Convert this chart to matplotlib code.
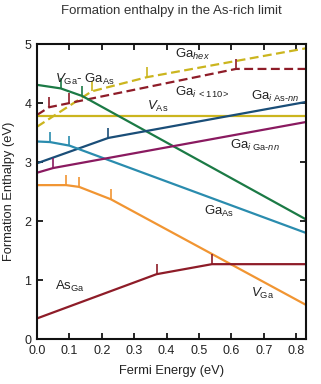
import numpy as np
import matplotlib
matplotlib.use('Agg')
import matplotlib.pyplot as plt

plt.rcParams['font.family'] = ['Liberation Sans', 'DejaVu Sans']
plt.rcParams['mathtext.fontset'] = 'custom'
plt.rcParams['mathtext.rm'] = 'Liberation Sans'
plt.rcParams['mathtext.it'] = 'Liberation Sans:italic'

# piecewise-linear defect formation enthalpies (x = Fermi energy, eV)
ga_hex_x = [0.0, 0.169, 0.339, 0.83]
ga_hex_y = [3.60, 4.20, 4.44, 4.93]
ga_i110_x = [0.0, 0.037, 0.099, 0.614, 0.83]
ga_i110_y = [3.80, 3.93, 4.00, 4.58, 4.58]
vga_gaas_x = [0.0, 0.073, 0.14, 0.83]
vga_gaas_y = [4.31, 4.25, 4.12, 2.03]
v_as_x = [0.0, 0.83]
v_as_y = [3.79, 3.79]
ga_iasnn_x = [0.0, 0.22, 0.83]
ga_iasnn_y = [2.98, 3.41, 4.02]
ga_as_x = [0.0, 0.04, 0.10, 0.83]
ga_as_y = [3.35, 3.34, 3.28, 1.80]
ga_igann_x = [0.0, 0.05, 0.83]
ga_igann_y = [2.82, 2.90, 3.68]
v_ga_x = [0.0, 0.09, 0.13, 0.228, 0.83]
v_ga_y = [2.61, 2.61, 2.58, 2.37, 0.58]
as_ga_x = [0.0, 0.369, 0.54, 0.83]
as_ga_y = [0.35, 1.10, 1.27, 1.27]

# transition levels (marked with a small vertical tick)
ga_hex_t = [0.169, 0.339]
ga_i110_t = [0.037, 0.099, 0.614]
vga_gaas_t = [0.073, 0.14]
ga_iasnn_t = [0.22]
ga_as_t = [0.04, 0.10]
ga_igann_t = [0.05]
v_ga_t = [0.09, 0.13, 0.228]
as_ga_t = [0.369, 0.54]

yellow = '#cbb51e'
darkred = '#8e1c28'
green = '#1b7a45'
navy = '#1a4e78'
teal = '#2a8cae'
magenta = '#8a1a60'
orange = '#f19532'

fig = plt.figure(figsize=(3.21, 3.84), dpi=100)
ax = fig.add_axes([0.1153, 0.117, 0.8377, 0.768])

curves = [
    (ga_hex_x, ga_hex_y, ga_hex_t, yellow, '--'),
    (ga_i110_x, ga_i110_y, ga_i110_t, darkred, '--'),
    (v_as_x, v_as_y, [], yellow, '-'),
    (vga_gaas_x, vga_gaas_y, vga_gaas_t, green, '-'),
    (ga_iasnn_x, ga_iasnn_y, ga_iasnn_t, navy, '-'),
    (ga_as_x, ga_as_y, ga_as_t, teal, '-'),
    (ga_igann_x, ga_igann_y, ga_igann_t, magenta, '-'),
    (v_ga_x, v_ga_y, v_ga_t, orange, '-'),
    (as_ga_x, as_ga_y, as_ga_t, darkred, '-'),
]
for xs, ys, ts, c, ls in curves:
    ax.plot(xs, ys, color=c, ls=ls, lw=1.6, dashes=(4, 2) if ls == '--' else (None, None))
    for t in ts:
        y0 = np.interp(t, xs, ys)
        ax.plot([t, t], [y0, y0 + 0.17], color=c, lw=1.2, solid_capstyle='butt')

lab = dict(fontsize=9.5, color='#222222')
ax.text(0.425, 4.77, r'Ga$_{\it hex}$', **lab)
ax.text(0.055, 4.35, r'$V_{\rm Ga}$- Ga$_{\rm As}$', **lab)
ax.text(0.425, 4.12, r'Ga$_{\it i\ \rm <110>}$', **lab)
ax.text(0.66, 4.05, r'Ga$_{\it i\ \rm As\text{-}\it nn}$', **lab)
ax.text(0.34, 3.88, r'$V_{\rm As}$', **lab)
ax.text(0.595, 3.22, r'Ga$_{\it i\ \rm Ga\text{-}\it nn}$', **lab)
ax.text(0.515, 2.1, r'Ga$_{\rm As}$', **lab)
ax.text(0.056, 0.84, r'As$_{\rm Ga}$', **lab)
ax.text(0.66, 0.72, r'$V_{\rm Ga}$', **lab)

ax.set_xlim(0, 0.83)
ax.set_ylim(0, 5)
ax.set_xticks(np.arange(0, 0.81, 0.1))
ax.set_xticklabels(['%.1f' % v for v in np.arange(0, 0.81, 0.1)])
ax.set_yticks([0, 1, 2, 3, 4, 5])
ax.tick_params(direction='in', length=4, width=1.2, top=True, right=True,
               labelsize=9, labelcolor='#222222', pad=4)
for s in ax.spines.values():
    s.set_linewidth(1.5)
    s.set_color('#111111')

ax.set_xlabel('Fermi Energy (eV)', fontsize=9.3, color='#222222', labelpad=6)
ax.set_ylabel('Formation Enthalpy (eV)', fontsize=9.3, color='#222222', labelpad=7)
fig.text(0.535, 0.972, 'Formation enthalpy in the As-rich limit', ha='center', va='center',
         fontsize=9.5, color='#333333')

fig.savefig('out.png', dpi=100)
